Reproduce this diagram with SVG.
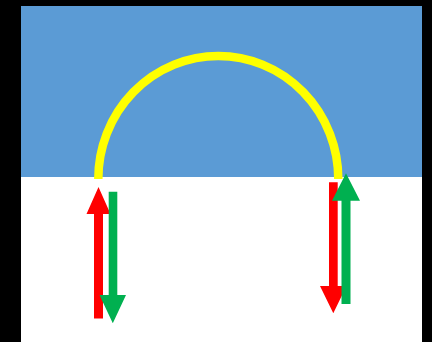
<svg xmlns="http://www.w3.org/2000/svg" width="432" height="342" viewBox="0 0 432 342">
<style>
.red{fill:#FF0000}
.green{fill:#00B050}
</style>
<rect x="0" y="0" width="432" height="342" fill="#000000"/>
<rect x="21" y="6" width="401" height="336" fill="#FFFFFF"/>
<rect x="21" y="6" width="401" height="171" fill="#5B9BD5"/>
<path d="M98.3,179 A120,123 0 0 1 338.3,179" fill="none" stroke="#FFFF00" stroke-width="8.5"/>
<g id="arrows">
<polygon class="red" points="94,318.5 103,318.5 103,214 110.5,214 98.5,187 86.5,214 94,214"/>
<polygon class="green" points="108.7,191.7 117.3,191.7 117.3,295 126,295 112.8,323.3 99.5,295 108.7,295"/>
<polygon class="red" points="329,182.3 337.7,182.3 337.7,286 346.5,286 333.3,313.3 320,286 329,286"/>
<polygon class="green" points="341.5,304 350.5,304 350.5,200.7 360,200.7 346,173.3 332,200.7 341.5,200.7"/>
</g>
</svg>
